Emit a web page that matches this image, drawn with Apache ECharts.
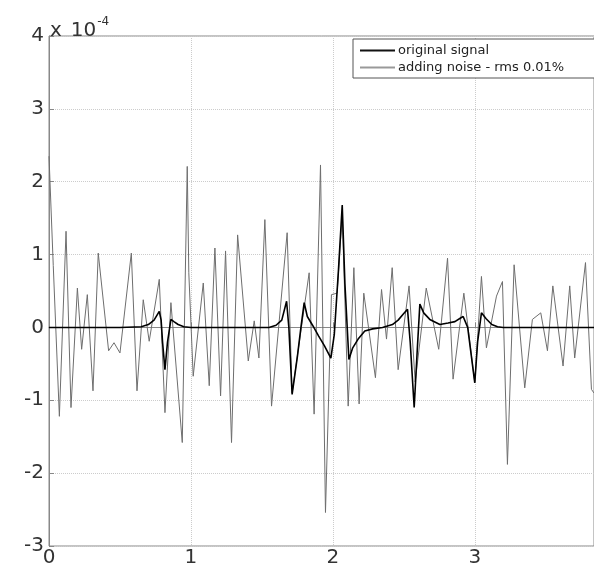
<!DOCTYPE html>
<html>
<head>
<meta charset="utf-8">
<script src="https://cdn.jsdelivr.net/npm/echarts@6/dist/echarts.min.js"></script>
<style>
  html, body { margin: 0; padding: 0; background: #fff; }
  #chart { width: 594px; height: 570px; }
</style>
</head>
<body>
<div id="chart"></div>
<script>
// values are in units of 1e-4
var noiseX = [0, 0.03, 0.073, 0.12, 0.155, 0.20, 0.23, 0.27, 0.31, 0.347, 0.42, 0.458, 0.50, 0.58, 0.62, 0.664, 0.706,
    0.777, 0.817, 0.859, 0.939, 0.974, 0.985, 1.016, 1.087, 1.129, 1.169, 1.209, 1.244, 1.286, 1.329, 1.404, 1.446,
    1.479, 1.521, 1.568, 1.678, 1.713, 1.833, 1.868, 1.913, 1.948, 1.99, 2.03, 2.066, 2.108, 2.148, 2.185, 2.218,
    2.30, 2.343, 2.378, 2.418, 2.46, 2.537, 2.58, 2.658, 2.746, 2.808, 2.847, 2.923, 3.0, 3.047, 3.082, 3.153, 3.195,
    3.23, 3.277, 3.352, 3.406, 3.465, 3.512, 3.55, 3.622, 3.669, 3.704, 3.78, 3.822, 3.84];
var noiseY = [2.35, 0.85, -1.22, 1.32, -1.10, 0.54, -0.30, 0.45, -0.87, 1.02, -0.32, -0.21, -0.35, 1.02, -0.87, 0.38, -0.19,
    0.66, -1.17, 0.34, -1.58, 2.21, 0.75, -0.67, 0.61, -0.80, 1.09, -0.94, 1.05, -1.58, 1.27, -0.46, 0.09,
    -0.42, 1.48, -1.08, 1.30, -0.90, 0.75, -1.19, 2.23, -2.54, 0.45, 0.47, 1.55, -1.08, 0.82, -1.05, 0.47,
    -0.69, 0.52, -0.16, 0.82, -0.58, 0.57, -0.75, 0.54, -0.30, 0.95, -0.71, 0.47, -0.76, 0.70, -0.28, 0.43, 0.63,
    -1.88, 0.86, -0.83, 0.11, 0.20, -0.32, 0.57, -0.53, 0.57, -0.42, 0.89, -0.85, -0.9];

var signalX = [0, 0.5, 0.65, 0.70, 0.74, 0.777, 0.79, 0.80, 0.817, 0.835, 0.859, 0.88, 0.91, 0.95, 1.0,
    1.55, 1.6, 1.64, 1.674, 1.69, 1.713, 1.75, 1.775, 1.798, 1.82, 1.86, 1.9, 1.94, 1.986, 2.01, 2.04, 2.066,
    2.085, 2.113, 2.14, 2.178, 2.225, 2.28, 2.35, 2.42, 2.46, 2.495, 2.526, 2.545, 2.573, 2.595, 2.613, 2.64,
    2.683, 2.754, 2.812, 2.86, 2.9, 2.918, 2.95, 3.0, 3.02, 3.047, 3.08, 3.12, 3.16, 3.2, 3.84];
var signalY = [0, 0, 0.01, 0.04, 0.10, 0.22, 0.10, -0.20, -0.58, -0.20, 0.11, 0.08, 0.04, 0.01, 0,
    0, 0.03, 0.10, 0.36, 0.0, -0.92, -0.40, 0.0, 0.34, 0.15, 0.02, -0.12, -0.25, -0.42, -0.10, 0.80, 1.68,
    0.60, -0.44, -0.28, -0.16, -0.05, -0.02, 0, 0.04, 0.10, 0.18, 0.25, -0.20, -1.10, -0.30, 0.32, 0.20,
    0.11, 0.04, 0.06, 0.08, 0.13, 0.15, 0.0, -0.76, -0.20, 0.20, 0.12, 0.04, 0.01, 0, 0];

function pairs(xs, ys) {
    return xs.map(function (x, i) { return [x, ys[i]]; });
}

var myChart = echarts.init(document.getElementById('chart'));
var font = 'DejaVu Sans, Verdana, sans-serif';

var option = {
    animation: false,
    textStyle: { fontFamily: font },
    grid: {
        left: 49, top: 36, right: 0, bottom: 24,
        show: true, borderColor: '#888', borderWidth: 1
    },
    legend: {
        orient: 'vertical',
        left: 353,
        top: 39,
        icon: 'rect',
        itemWidth: 35,
        itemHeight: 2,
        itemGap: 4,
        padding: [5, 40, 4, 7],
        borderColor: '#555',
        borderWidth: 1,
        backgroundColor: '#fff',
        textStyle: { fontSize: 13, color: '#222', fontFamily: font, padding: [0, 0, 0, -2] },
        data: ['original signal', 'adding noise - rms 0.01%']
    },
    xAxis: {
        type: 'value',
        min: 0,
        max: 3.84,
        interval: 1,
        axisLine: { lineStyle: { color: '#888' } },
        axisTick: { inside: true, length: 5, lineStyle: { color: '#888' } },
        axisLabel: { fontSize: 20, color: '#333', margin: 2, showMaxLabel: false },
        splitLine: { show: true, lineStyle: { type: 'dotted', color: '#ccc' } }
    },
    yAxis: {
        type: 'value',
        min: -3,
        max: 4,
        interval: 1,
        axisLine: { show: true, lineStyle: { color: '#888' } },
        axisTick: { show: true, inside: true, length: 5, lineStyle: { color: '#888' } },
        axisLabel: { fontSize: 20, color: '#333', margin: 5 },
        splitLine: { show: true, lineStyle: { type: 'dotted', color: '#ccc' } }
    },
    graphic: [{
        type: 'text',
        left: 50,
        top: 16,
        style: {
            text: '{a|x}{c|10}{b|-4}',
            rich: {
                a: { fontSize: 20, fill: '#333', fontFamily: font },
                c: { fontSize: 20, fill: '#333', fontFamily: font, padding: [0, 0, 0, 9] },
                b: { fontSize: 12, fill: '#333', fontFamily: font, padding: [0, 0, 17, 1] }
            }
        }
    }],
    series: [
        {
            name: 'original signal',
            type: 'line',
            symbol: 'none',
            z: 3,
            lineStyle: { color: '#000', width: 1.6 },
            itemStyle: { color: '#111' },
            data: pairs(signalX, signalY)
        },
        {
            name: 'adding noise - rms 0.01%',
            type: 'line',
            symbol: 'none',
            z: 2,
            lineStyle: { color: '#6e6e6e', width: 1 },
            itemStyle: { color: '#999' },
            data: pairs(noiseX, noiseY)
        }
    ]
};
myChart.setOption(option);
</script>
</body>
</html>
